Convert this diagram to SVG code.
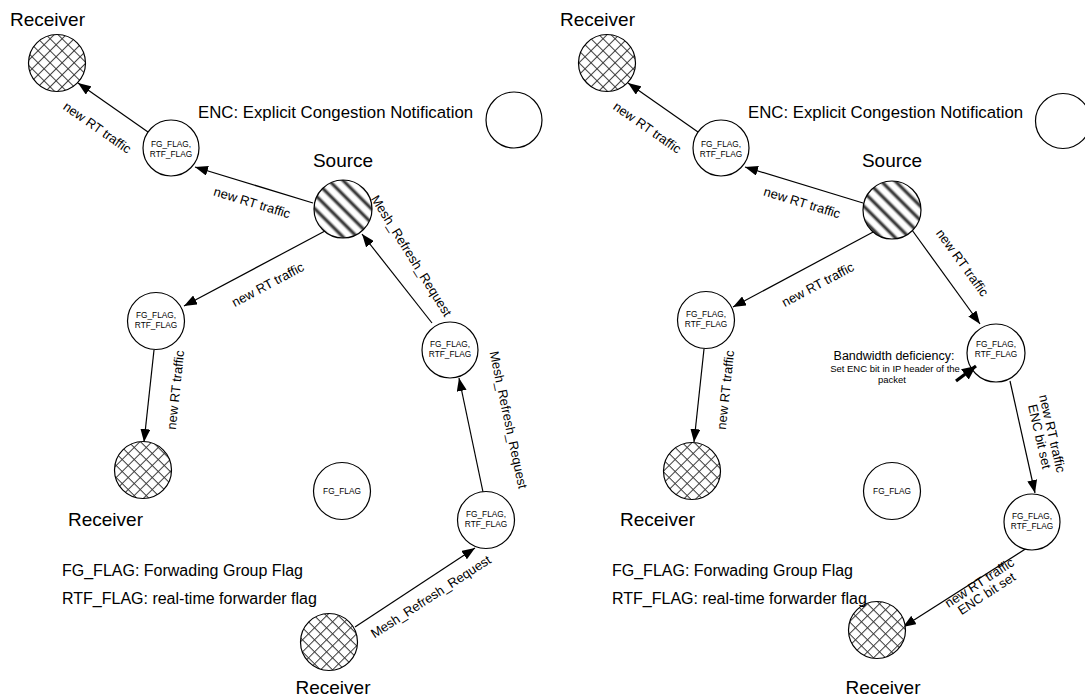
<svg xmlns="http://www.w3.org/2000/svg" width="1085" height="698" viewBox="0 0 1085 698">
  <style>
    .node { fill: #fff; stroke: #000; stroke-width: 1.2; }
    .rcv { fill: url(#cross); stroke: #000; stroke-width: 1.2; }
    .src { fill: url(#stripes); stroke: #000; stroke-width: 1.2; }
    .edge { stroke: #000; stroke-width: 1.2; fill: none; marker-end: url(#arr); }
    .big { font-family: "Liberation Sans", Arial, sans-serif; font-size: 19px; fill: #000; }
    .note { font-family: "Liberation Sans", Arial, sans-serif; font-size: 16px; fill: #000; }
    .lbl { font-family: "Liberation Sans", Arial, sans-serif; font-size: 13px; fill: #000; text-anchor: middle; }
    .ntx { font-family: "Liberation Sans", Arial, sans-serif; font-size: 8.3px; fill: #000; text-anchor: middle; }
    .mid { text-anchor: middle; }
  </style>
  <defs>
    <pattern id="cross" width="8.5" height="8.5" patternUnits="userSpaceOnUse" patternTransform="translate(2,2) rotate(45)">
      <rect width="8.5" height="8.5" fill="#fff"/>
      <line x1="0" y1="0" x2="0" y2="8.5" stroke="#3a3a3a" stroke-width="2"/>
      <line x1="0" y1="0" x2="8.5" y2="0" stroke="#3a3a3a" stroke-width="2"/>
    </pattern>
    <linearGradient id="stripeGrad" x1="0" y1="0" x2="1" y2="0">
      <stop offset="0" stop-color="#fff"/>
      <stop offset="0.22" stop-color="#fff"/>
      <stop offset="0.5" stop-color="#141414"/>
      <stop offset="0.78" stop-color="#fff"/>
      <stop offset="1" stop-color="#fff"/>
    </linearGradient>
    <pattern id="stripes" width="10" height="10" patternUnits="userSpaceOnUse" patternTransform="rotate(-45)">
      <rect width="10" height="10" fill="url(#stripeGrad)"/>
    </pattern>
    <marker id="arr" viewBox="0 0 13 10" refX="13" refY="5" markerWidth="13" markerHeight="10" orient="auto" markerUnits="userSpaceOnUse">
      <path d="M0,0 L13,5 L0,10 z" fill="#000"/>
    </marker>
    <marker id="arrB" viewBox="0 0 14 13" refX="14" refY="6.5" markerWidth="14" markerHeight="13" orient="auto" markerUnits="userSpaceOnUse">
      <path d="M0,0 L14,6.5 L0,13 z" fill="#000"/>
    </marker>
  </defs>

  <!-- ===== Left scenario: Mesh_Refresh_Request ===== -->
  <g id="connectors-left">
    <line class="edge" x1="148" y1="132" x2="78" y2="83"/>
    <line class="edge" x1="313" y1="203" x2="195" y2="167"/>
    <line class="edge" x1="325" y1="231" x2="184" y2="306"/>
    <line class="edge" x1="154" y1="350" x2="144" y2="442"/>
    <line class="edge" x1="432" y1="323" x2="362" y2="234"/>
    <line class="edge" x1="483" y1="492" x2="459" y2="378"/>
    <line class="edge" x1="355" y1="627" x2="475" y2="548"/>
    <text class="lbl" transform="translate(97,128) rotate(35)" dy="4">new RT traffic</text>
    <text class="lbl" transform="translate(252,203) rotate(17)" dy="4">new RT traffic</text>
    <text class="lbl" transform="translate(268,285) rotate(-28)" dy="4">new RT traffic</text>
    <text class="lbl" transform="translate(176,390) rotate(-84)" dy="4">new RT traffic</text>
    <text class="lbl" transform="translate(411,256) rotate(58)" dy="4">Mesh_Refresh_Request</text>
    <text class="lbl" transform="translate(508,420) rotate(78)" dy="4">Mesh_Refresh_Request</text>
    <text class="lbl" transform="translate(431,597) rotate(-33)" dy="4">Mesh_Refresh_Request</text>
  </g>

  <g id="L-receiver-top">
    <circle class="rcv" cx="57" cy="63" r="28.5"/>
    <text class="big" x="10" y="26">Receiver</text>
  </g>
  <g id="L-fg-top">
    <circle class="node" cx="171" cy="148" r="28"/>
    <text class="ntx" x="171" y="147">FG_FLAG,</text>
    <text class="ntx" x="171" y="157">RTF_FLAG</text>
  </g>
  <g id="L-source">
    <circle class="src" cx="343" cy="209" r="29"/>
    <text class="big mid" x="343" y="167">Source</text>
  </g>
  <g id="L-legend-enc">
    <text class="note" x="198" y="118" style="font-size:16.8px">ENC: Explicit Congestion Notification</text>
    <circle class="node" cx="514" cy="120" r="28"/>
  </g>
  <g id="L-fg-mid">
    <circle class="node" cx="156" cy="321" r="28.5"/>
    <text class="ntx" x="156" y="318">FG_FLAG,</text>
    <text class="ntx" x="156" y="328">RTF_FLAG</text>
  </g>
  <g id="L-receiver-left">
    <circle class="rcv" cx="143" cy="470" r="28.5"/>
    <text class="big" x="68" y="526">Receiver</text>
  </g>
  <g id="L-fg-only">
    <circle class="node" cx="342" cy="491" r="28.5"/>
    <text class="ntx" x="342" y="494">FG_FLAG</text>
  </g>
  <g id="L-fg-right">
    <circle class="node" cx="450" cy="350" r="28"/>
    <text class="ntx" x="450" y="347">FG_FLAG,</text>
    <text class="ntx" x="450" y="357">RTF_FLAG</text>
  </g>
  <g id="L-fg-low">
    <circle class="node" cx="486" cy="520" r="28.5"/>
    <text class="ntx" x="486" y="517">FG_FLAG,</text>
    <text class="ntx" x="486" y="527">RTF_FLAG</text>
  </g>
  <g id="L-receiver-bottom">
    <circle class="rcv" cx="329" cy="642" r="28.5"/>
    <text class="big mid" x="333" y="694">Receiver</text>
  </g>
  <g id="L-legend-flags">
    <text class="note" x="62" y="576">FG_FLAG: Forwading Group Flag</text>
    <text class="note" x="62" y="604">RTF_FLAG: real-time forwarder flag</text>
  </g>

  <!-- ===== Right scenario: ENC bit set on bandwidth deficiency ===== -->
  <g id="connectors-right">
    <line class="edge" x1="698" y1="132" x2="628" y2="83"/>
    <line class="edge" x1="863" y1="203" x2="745" y2="167"/>
    <line class="edge" x1="875" y1="231" x2="733" y2="307"/>
    <line class="edge" x1="704" y1="349" x2="694" y2="442"/>
    <line class="edge" x1="912" y1="230" x2="980" y2="324"/>
    <line class="edge" x1="1010" y1="381" x2="1035" y2="493"/>
    <line class="edge" x1="1027" y1="548" x2="903" y2="627"/>
    <text class="lbl" transform="translate(647,128) rotate(35)" dy="4">new RT traffic</text>
    <text class="lbl" transform="translate(802,203) rotate(17)" dy="4">new RT traffic</text>
    <text class="lbl" transform="translate(818,285) rotate(-28)" dy="4">new RT traffic</text>
    <text class="lbl" transform="translate(726,390) rotate(-84)" dy="4">new RT traffic</text>
    <text class="lbl" transform="translate(962,263) rotate(54)" dy="4">new RT traffic</text>
    <text class="lbl" transform="translate(1046,435) rotate(77)"><tspan x="0" dy="-2">new RT traffic</tspan><tspan x="0" dy="13">ENC bit set</tspan></text>
    <text class="lbl" transform="translate(983,588) rotate(-33)"><tspan x="0" dy="-2">new RT traffic</tspan><tspan x="0" dy="13">ENC bit set</tspan></text>
  </g>

  <g id="R-receiver-top">
    <circle class="rcv" cx="607" cy="63" r="28.5"/>
    <text class="big" x="560" y="26">Receiver</text>
  </g>
  <g id="R-fg-top">
    <circle class="node" cx="721" cy="148" r="28"/>
    <text class="ntx" x="721" y="147">FG_FLAG,</text>
    <text class="ntx" x="721" y="157">RTF_FLAG</text>
  </g>
  <g id="R-source">
    <circle class="src" cx="892" cy="210" r="29"/>
    <text class="big mid" x="892" y="167">Source</text>
  </g>
  <g id="R-legend-enc">
    <text class="note" x="748" y="118" style="font-size:16.8px">ENC: Explicit Congestion Notification</text>
    <circle class="node" cx="1063" cy="121" r="27.5"/>
  </g>
  <g id="R-fg-mid">
    <circle class="node" cx="706" cy="320" r="28.5"/>
    <text class="ntx" x="706" y="317">FG_FLAG,</text>
    <text class="ntx" x="706" y="327">RTF_FLAG</text>
  </g>
  <g id="R-receiver-left">
    <circle class="rcv" cx="692" cy="471" r="28.5"/>
    <text class="big" x="620" y="526">Receiver</text>
  </g>
  <g id="R-fg-only">
    <circle class="node" cx="892" cy="491" r="28.5"/>
    <text class="ntx" x="892" y="494">FG_FLAG</text>
  </g>
  <g id="R-fg-right">
    <circle class="node" cx="996" cy="353" r="29"/>
    <text class="ntx" x="996" y="347">FG_FLAG,</text>
    <text class="ntx" x="996" y="357">RTF_FLAG</text>
  </g>
  <g id="R-bandwidth-note">
    <text class="lbl" x="894" y="360" style="font-size:12.5px">Bandwidth deficiency:</text>
    <text class="lbl" x="895" y="372" style="font-size:9.5px">Set ENC bit in IP header of the</text>
    <text class="lbl" x="892" y="383" style="font-size:9.5px">packet</text>
    <line x1="956" y1="381" x2="976" y2="366" stroke="#000" stroke-width="3.2" marker-end="url(#arrB)"/>
  </g>
  <g id="R-fg-low">
    <circle class="node" cx="1032" cy="522" r="28"/>
    <text class="ntx" x="1032" y="519">FG_FLAG,</text>
    <text class="ntx" x="1032" y="529">RTF_FLAG</text>
  </g>
  <g id="R-receiver-bottom">
    <circle class="rcv" cx="877" cy="630" r="28.5"/>
    <text class="big mid" x="883" y="694">Receiver</text>
  </g>
  <g id="R-legend-flags">
    <text class="note" x="612" y="576">FG_FLAG: Forwading Group Flag</text>
    <text class="note" x="612" y="604">RTF_FLAG: real-time forwarder flag</text>
  </g>
</svg>
